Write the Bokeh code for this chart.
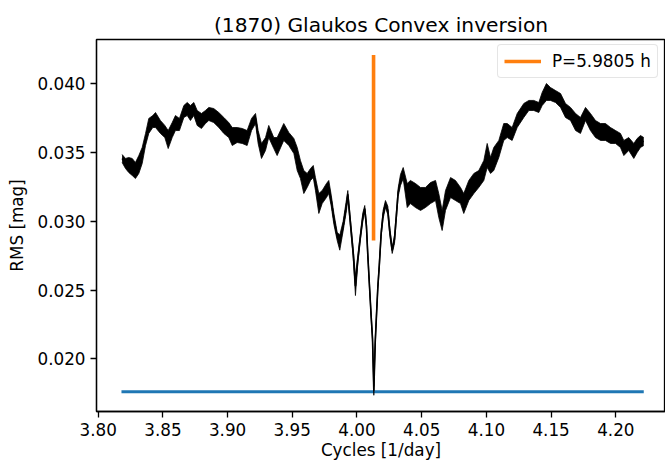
from bokeh.plotting import figure
from bokeh.models import Range1d, FixedTicker, NumeralTickFormatter
from bokeh.embed import file_html
from bokeh.resources import INLINE

# ---- data ----
freq = [3.8185, 3.8211, 3.8236, 3.8263, 3.8288, 3.8314, 3.8340, 3.8366, 3.8391, 3.8422,
        3.8443, 3.8481, 3.8515, 3.8541, 3.8572, 3.8597, 3.8628, 3.8662, 3.8688, 3.8713,
        3.8739, 3.8765, 3.8798, 3.8829, 3.8855, 3.8893, 3.8932, 3.8971, 3.9009, 3.9036,
        3.9074, 3.9113, 3.9151, 3.9185, 3.9216, 3.9236, 3.9262, 3.9293, 3.9318, 3.9357,
        3.9383, 3.9434, 3.9473, 3.9512, 3.9538, 3.9563, 3.9589, 3.9615, 3.9641, 3.9662,
        3.9679, 3.9705, 3.9731, 3.9764, 3.9782, 3.9801, 3.9821, 3.9847, 3.9867, 3.9893,
        3.9919, 3.9929, 3.9950, 3.9971, 3.9988, 4.0006, 4.0027, 4.0045, 4.0060, 4.0073,
        4.0083, 4.0097, 4.0110, 4.0120, 4.0130, 4.0141, 4.0151, 4.0161, 4.0172, 4.0187,
        4.0202, 4.0220, 4.0238, 4.0253, 4.0272, 4.0290, 4.0305, 4.0318, 4.0336, 4.0357,
        4.0388, 4.0413, 4.0452, 4.0491, 4.0529, 4.0568, 4.0607, 4.0632, 4.0658, 4.0684,
        4.0723, 4.0761, 4.0800, 4.0825, 4.0864, 4.0903, 4.0941, 4.0980, 4.1006, 4.1032,
        4.1057, 4.1096, 4.1134, 4.1161, 4.1199, 4.1238, 4.1289, 4.1328, 4.1366, 4.1405,
        4.1431, 4.1464, 4.1495, 4.1534, 4.1573, 4.1611, 4.1650, 4.1689, 4.1727, 4.1766,
        4.1804, 4.1843, 4.1882, 4.1920, 4.1959, 4.1998, 4.2036, 4.2062, 4.2100, 4.2139,
        4.2165, 4.2191, 4.2216]

rms_high = [0.03486, 0.03457, 0.03464, 0.03457, 0.03428, 0.03478, 0.03537, 0.03639, 0.03748, 0.03769,
            0.03791, 0.03733, 0.03697, 0.03660, 0.03718, 0.03769, 0.03748, 0.03842, 0.03864, 0.03842,
            0.03864, 0.03806, 0.03784, 0.03806, 0.03828, 0.03820, 0.03791, 0.03755, 0.03718, 0.03682,
            0.03682, 0.03675, 0.03660, 0.03748, 0.03784, 0.03660, 0.03566, 0.03609, 0.03697, 0.03609,
            0.03609, 0.03711, 0.03646, 0.03602, 0.03537, 0.03442, 0.03369, 0.03348, 0.03384, 0.03406,
            0.03318, 0.03202, 0.03224, 0.03275, 0.03297, 0.03190, 0.03060, 0.02920, 0.02900, 0.03000,
            0.03160, 0.03224, 0.03010, 0.02800, 0.02600, 0.02750, 0.02920, 0.03060, 0.03115, 0.02990,
            0.02790, 0.02540, 0.02320, 0.02170, 0.01800, 0.02150, 0.02350, 0.02540, 0.02700, 0.02940,
            0.03080, 0.03151, 0.03110, 0.02960, 0.02810, 0.02900, 0.03080, 0.03240, 0.03340, 0.03391,
            0.03275, 0.03297, 0.03275, 0.03246, 0.03246, 0.03282, 0.03297, 0.03202, 0.03079, 0.03224,
            0.03318, 0.03297, 0.03246, 0.03202, 0.03297, 0.03348, 0.03369, 0.03442, 0.03566, 0.03464,
            0.03537, 0.03588, 0.03711, 0.03711, 0.03682, 0.03784, 0.03857, 0.03879, 0.03879, 0.03864,
            0.03937, 0.04002, 0.03973, 0.03951, 0.03929, 0.03857, 0.03828, 0.03784, 0.03755, 0.03828,
            0.03784, 0.03733, 0.03711, 0.03711, 0.03682, 0.03660, 0.03639, 0.03588, 0.03609, 0.03566,
            0.03602, 0.03624, 0.03609]

rms_low = [0.03428, 0.03384, 0.03355, 0.03333, 0.03311, 0.03348, 0.03420, 0.03551, 0.03639, 0.03682,
           0.03682, 0.03639, 0.03609, 0.03529, 0.03609, 0.03660, 0.03660, 0.03755, 0.03769, 0.03733,
           0.03769, 0.03697, 0.03675, 0.03711, 0.03733, 0.03718, 0.03682, 0.03639, 0.03609, 0.03551,
           0.03573, 0.03566, 0.03551, 0.03660, 0.03711, 0.03566, 0.03457, 0.03515, 0.03609, 0.03529,
           0.03478, 0.03588, 0.03551, 0.03493, 0.03369, 0.03311, 0.03202, 0.03246, 0.03297, 0.03318,
           0.03224, 0.03057, 0.03129, 0.03173, 0.03202, 0.03110, 0.02980, 0.02860, 0.02790, 0.02930,
           0.03080, 0.03170, 0.02950, 0.02730, 0.02460, 0.02690, 0.02870, 0.03000, 0.03070, 0.02940,
           0.02740, 0.02500, 0.02280, 0.02120, 0.01735, 0.02100, 0.02300, 0.02500, 0.02650, 0.02890,
           0.03020, 0.03100, 0.03050, 0.02900, 0.02766, 0.02840, 0.03020, 0.03180, 0.03260, 0.03310,
           0.03100, 0.03129, 0.03100, 0.03079, 0.03100, 0.03129, 0.03151, 0.03028, 0.02933, 0.03079,
           0.03173, 0.03151, 0.03129, 0.03057, 0.03151, 0.03202, 0.03246, 0.03297, 0.03391, 0.03348,
           0.03369, 0.03464, 0.03588, 0.03609, 0.03588, 0.03682, 0.03755, 0.03806, 0.03806, 0.03791,
           0.03842, 0.03879, 0.03879, 0.03864, 0.03828, 0.03755, 0.03733, 0.03660, 0.03639, 0.03733,
           0.03660, 0.03609, 0.03588, 0.03588, 0.03566, 0.03566, 0.03537, 0.03478, 0.03515, 0.03457,
           0.03500, 0.03537, 0.03551]

rms_mid = [(a + b) / 2 for a, b in zip(rms_high, rms_low)]

best_freq = 4.0128
best_rms_span = [0.0286, 0.0421]
best_label = "P=5.9805 h"

min_level_x = [3.8180, 4.2216]
min_level_y = [0.0176, 0.0176]

x_ticks = [3.80, 3.85, 3.90, 3.95, 4.00, 4.05, 4.10, 4.15, 4.20]
y_ticks = [0.020, 0.025, 0.030, 0.035, 0.040]

title_text = "(1870) Glaukos Convex inversion"
x_label = "Cycles [1/day]"
y_label = "RMS [mag]"

FONT = "DejaVu Sans"
FS = "16.8px"

p = figure(width=665, height=463, output_backend="svg", toolbar_location=None,
           x_range=Range1d(3.7987, 4.2384), y_range=Range1d(0.01617, 0.04322),
           min_border_left=96, min_border_right=0, min_border_top=39, min_border_bottom=52,
           title=title_text)

p.title.text_font = FONT
p.title.text_font_size = "20.2px"
p.title.text_font_style = "normal"
p.title.align = "center"
p.title.text_color = "black"
p.title.standoff = 6

p.xgrid.visible = False
p.ygrid.visible = False
p.outline_line_color = "black"
p.outline_line_width = 1.3
p.outline_line_alpha = 1.0
p.background_fill_color = "white"
p.border_fill_color = "white"

p.xaxis.ticker = FixedTicker(ticks=x_ticks)
p.yaxis.ticker = FixedTicker(ticks=y_ticks)
p.xaxis.formatter = NumeralTickFormatter(format="0.00")
p.yaxis.formatter = NumeralTickFormatter(format="0.000")
p.xaxis.axis_label = x_label
p.yaxis.axis_label = y_label
for ax in (p.xaxis, p.yaxis):
    ax.major_label_text_font = FONT
    ax.major_label_text_font_size = FS
    ax.major_label_text_color = "black"
    ax.axis_label_text_font = FONT
    ax.axis_label_text_font_size = FS
    ax.axis_label_text_font_style = "normal"
    ax.axis_label_text_color = "black"
    ax.axis_line_color = "black"
    ax.axis_line_width = 1.3
    ax.major_tick_line_color = "black"
    ax.major_tick_line_width = 1.3
    ax.major_tick_out = 6
    ax.major_tick_in = 0
    ax.minor_tick_line_color = None
    ax.major_label_standoff = 5
p.xaxis.axis_label_standoff = 1
p.yaxis.axis_label_standoff = 7

# horizontal minimum level
p.line(min_level_x, min_level_y, line_color="#1f77b4", line_width=3.0)

# noisy RMS curve (band between low/high envelopes)
p.varea(x=freq, y1=rms_low, y2=rms_high, fill_color="black", fill_alpha=1.0)
p.line(freq, rms_high, line_color="black", line_width=0.8)
p.line(freq, rms_low, line_color="black", line_width=0.8)
p.line(freq, rms_mid, line_color="black", line_width=1.6)

# best period marker
p.line([best_freq, best_freq], best_rms_span, line_color="#ff7f0e", line_width=3.6,
       legend_label=best_label)

lg = p.legend[0]
lg.location = (401, 333)
lg.label_text_font = FONT
lg.label_text_font_size = FS
lg.label_text_color = "black"
lg.glyph_width = 37
lg.label_standoff = 11
lg.padding = 6
lg.margin = 0
lg.spacing = 0
lg.label_height = 20
lg.border_line_color = "#cccccc"
lg.border_line_width = 1
lg.background_fill_alpha = 0.8
if "border_radius" in lg.properties():
    lg.border_radius = 4

open("out.html", "w").write(file_html(p, INLINE))
